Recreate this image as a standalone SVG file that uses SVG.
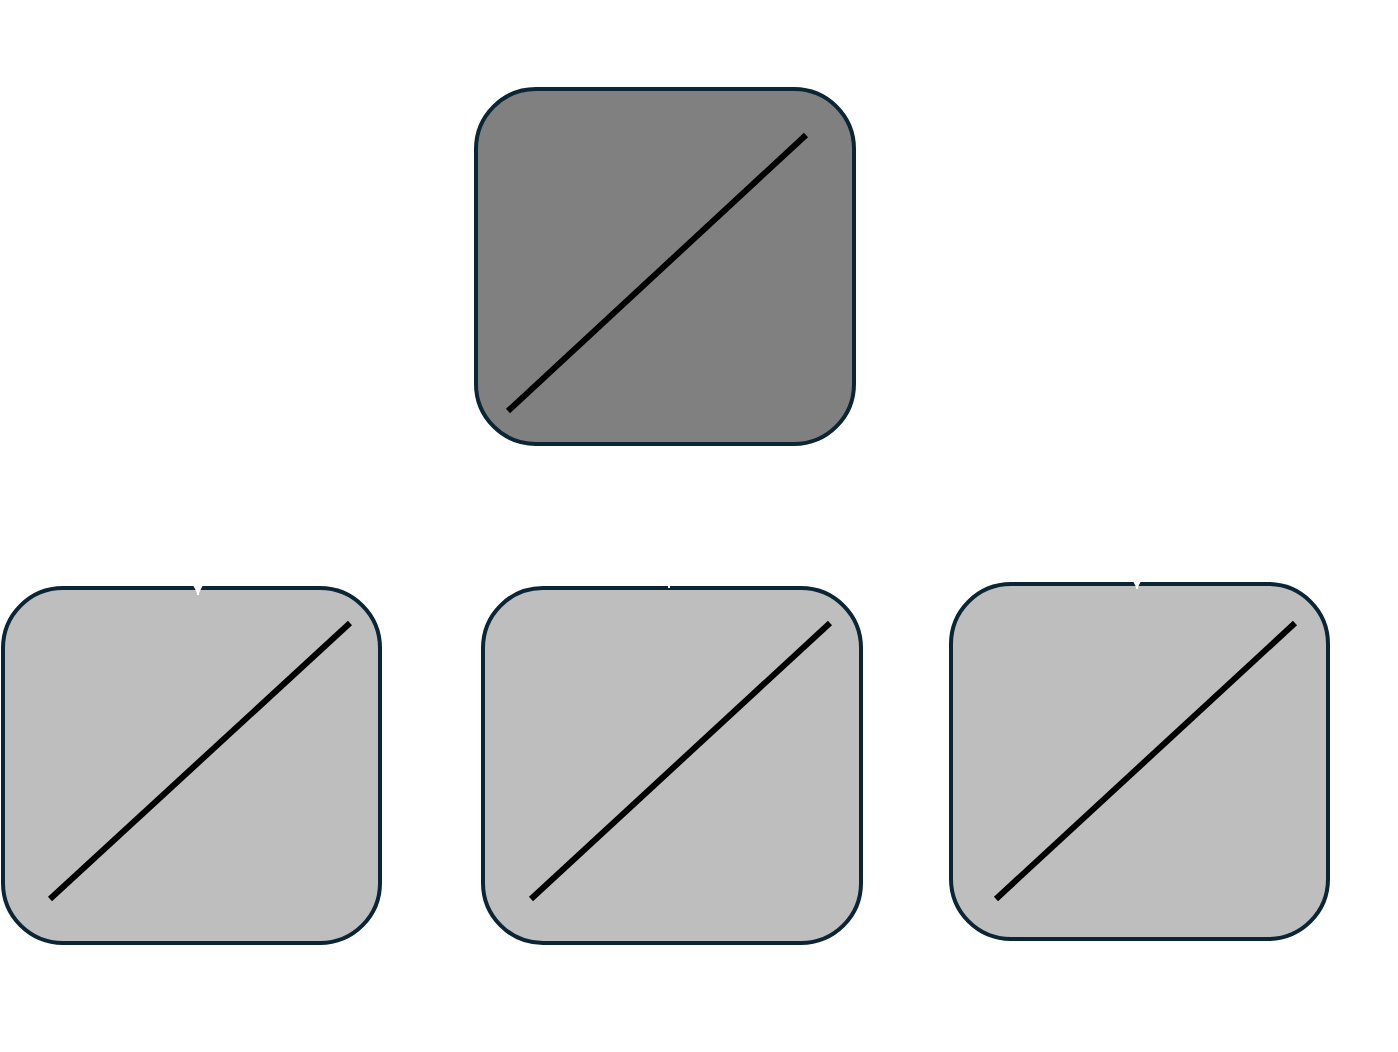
<svg xmlns="http://www.w3.org/2000/svg" width="1398" height="1052" viewBox="0 0 1398 1052">
<style>
.box{stroke:#0b2535;stroke-width:4}
.top{fill:#808080}
.child{fill:#bebebe}
.diag{stroke:#000;stroke-width:6;fill:none}
.conn{stroke:#ffffff;stroke-width:2;fill:none}
</style>
<defs>
<marker id="arr" markerUnits="userSpaceOnUse" markerWidth="12" markerHeight="12" refX="12" refY="6" orient="auto">
<path d="M0,0 L12,6 L0,12 z" fill="#ffffff"/>
</marker>
</defs>
<rect width="1398" height="1052" fill="#ffffff"/>
<g id="node-top">
<rect class="box top" x="476" y="89" width="378" height="355" rx="60" ry="60"/>
<line class="diag" x1="508" y1="411" x2="806" y2="135"/>
</g>
<g id="node-child1">
<rect class="box child" x="3" y="588" width="377" height="355" rx="60" ry="60"/>
<line class="diag" x1="50" y1="899" x2="350" y2="623"/>
</g>
<g id="node-child2">
<rect class="box child" x="483" y="588" width="378" height="355" rx="60" ry="60"/>
<line class="diag" x1="531" y1="899" x2="830" y2="623"/>
</g>
<g id="node-child3">
<rect class="box child" x="951" y="584" width="377" height="355" rx="60" ry="60"/>
<line class="diag" x1="996" y1="899" x2="1295" y2="623"/>
</g>
<g id="connectors">
<path class="conn" d="M665,448 V515 H198 V595" marker-end="url(#arr)"/>
<path class="conn" d="M665,448 V515 H669 V588" marker-end="url(#arr)"/>
<path class="conn" d="M665,448 V515 H1137 V589" marker-end="url(#arr)"/>
</g>
</svg>
